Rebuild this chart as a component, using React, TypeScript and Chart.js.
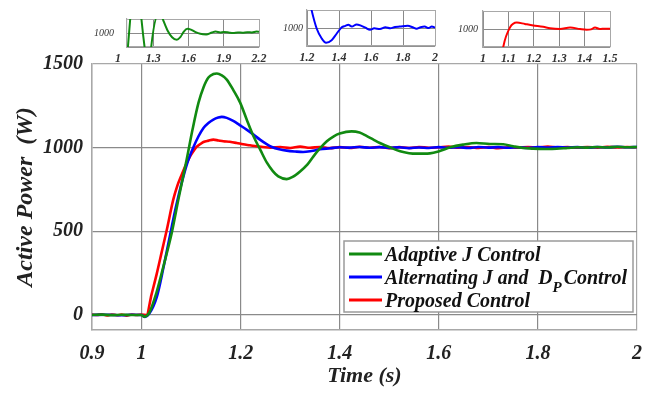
import React, { useEffect, useRef } from "react";
import { Chart, registerables } from "chart.js";

Chart.register(...registerables);

const SERIF = '"Liberation Serif", "Times New Roman", serif';

// ---------- main chart data ----------
const greenTime = [0.9, 0.92, 0.94, 0.96, 0.98, 1.0, 1.005, 1.015, 1.03, 1.045, 1.061, 1.075, 1.091, 1.103, 1.115, 1.125, 1.135, 1.145, 1.152, 1.162, 1.172, 1.185, 1.199, 1.212, 1.226, 1.24, 1.253, 1.265, 1.276, 1.293, 1.305, 1.32, 1.335, 1.347, 1.36, 1.374, 1.388, 1.4, 1.424, 1.44, 1.454, 1.468, 1.481, 1.501, 1.522, 1.54, 1.555, 1.582, 1.602, 1.623, 1.649, 1.676, 1.703, 1.73, 1.75, 1.77, 1.79, 1.815, 1.838, 1.86, 1.88, 1.9, 1.92, 1.94, 1.96, 1.98, 2.0];
const greenPower = [0, 2, -1, 1, 0, 0, -10, 10, 132, 300, 491, 700, 928, 1110, 1269, 1360, 1419, 1440, 1443, 1432, 1407, 1345, 1269, 1170, 1068, 985, 910, 860, 828, 812, 825, 858, 900, 948, 995, 1038, 1068, 1084, 1097, 1090, 1070, 1048, 1028, 1002, 978, 967, 964, 966, 980, 1002, 1018, 1028, 1022, 1020, 1008, 998, 994, 992, 993, 998, 1002, 1000, 1004, 1001, 1005, 1002, 1004];

const blueTime = [0.9, 0.93, 0.96, 0.98, 1.0, 1.007, 1.015, 1.031, 1.044, 1.057, 1.069, 1.081, 1.092, 1.104, 1.115, 1.125, 1.135, 1.145, 1.155, 1.162, 1.172, 1.185, 1.198, 1.212, 1.226, 1.239, 1.251, 1.263, 1.278, 1.293, 1.31, 1.326, 1.343, 1.36, 1.38, 1.4, 1.42, 1.44, 1.46, 1.48, 1.5, 1.52, 1.54, 1.56, 1.58, 1.6, 1.62, 1.64, 1.66, 1.68, 1.7, 1.72, 1.74, 1.76, 1.78, 1.8, 1.82, 1.84, 1.86, 1.88, 1.9, 1.92, 1.94, 1.96, 1.98, 2.0];
const bluePower = [0, 1, -2, 1, 0, -12, 5, 110, 280, 469, 640, 789, 905, 998, 1068, 1118, 1148, 1168, 1180, 1184, 1178, 1160, 1135, 1108, 1078, 1048, 1024, 1004, 990, 982, 977, 974, 980, 990, 996, 1002, 1000, 1004, 999, 1003, 998, 1002, 997, 1001, 998, 1003, 999, 1002, 998, 1004, 1000, 1003, 999, 1002, 998, 1003, 1000, 1004, 1001, 1003, 999, 1004, 1001, 1005, 1002, 1004];

const redTime = [0.9, 0.91, 0.92, 0.93, 0.94, 0.95, 0.96, 0.97, 0.98, 0.99, 1.0, 1.01, 1.02, 1.031, 1.041, 1.051, 1.064, 1.072, 1.081, 1.09, 1.098, 1.105, 1.111, 1.118, 1.125, 1.135, 1.145, 1.155, 1.165, 1.178, 1.192, 1.205, 1.219, 1.232, 1.245, 1.26, 1.28, 1.3, 1.32, 1.34, 1.36, 1.38, 1.4, 1.42, 1.44, 1.46, 1.48, 1.5, 1.52, 1.54, 1.56, 1.58, 1.6, 1.62, 1.64, 1.66, 1.68, 1.7, 1.72, 1.74, 1.76, 1.78, 1.8, 1.82, 1.84, 1.86, 1.88, 1.9, 1.92, 1.94, 1.96, 1.98, 2.0];
const redPower = [2, 0, 4, -3, 3, -2, 2, -4, 3, 0, 2, 0, 120, 250, 380, 509, 689, 770, 838, 900, 948, 980, 1004, 1020, 1034, 1042, 1048, 1043, 1038, 1035, 1028, 1020, 1014, 1008, 1004, 1000, 1004, 998, 1006, 999, 1004, 997, 1003, 998, 1005, 999, 1004, 997, 1003, 998, 1004, 999, 1002, 1006, 1000, 1004, 998, 1003, 997, 1002, 999, 1004, 1001, 1006, 1000, 1003, 999, 1004, 1000, 1005, 1001, 1004, 1002];

const seriesLabels = ["Adaptive J Control", "Alternating J and  D_P Control", "Proposed Control"];
const seriesColors = ["#118a11", "#0000ff", "#ff0000"];

const mainXTicks = [0.9, 1, 1.2, 1.4, 1.6, 1.8, 2];
const mainYTicks = [0, 500, 1000, 1500];

// ---------- inset data ----------
const inset1Time = [1.07, 1.115, 1.15, 1.185, 1.245, 1.265, 1.275, 1.355, 1.37, 1.385, 1.42, 1.46, 1.5, 1.53, 1.56, 1.59, 1.62, 1.66, 1.7, 1.75, 1.8, 1.83, 1.87, 1.9, 1.95, 1.98, 2.02, 2.06, 2.1, 2.14, 2.18, 2.2];
const inset1Power = [880, 1110, 1300, 1110, 890, 850, 920, 1075, 1062, 1045, 1010, 985, 976, 985, 1005, 1015, 1012, 1003, 997, 995, 1002, 1005, 1002, 1004, 1001, 1000, 1002, 1001, 1003, 1002, 1005, 1004];
const inset1XTicks = [1, 1.3, 1.6, 1.9, 2.2];

const inset2Time = [1.2, 1.229, 1.261, 1.292, 1.319, 1.354, 1.385, 1.417, 1.44, 1.458, 1.48, 1.51, 1.54, 1.565, 1.594, 1.62, 1.656, 1.69, 1.72, 1.75, 1.78, 1.83, 1.86, 1.885, 1.91, 1.935, 1.96, 1.98, 2.0];
const inset2Power = [1110, 1049, 998, 971, 959, 966, 984, 1002, 1006, 1009, 1004, 1010, 1006, 1001, 995, 999, 997, 1002, 999, 1003, 1004, 1006, 1002, 998, 1002, 1004, 1000, 1004, 1001];
const inset2XTicks = [1.2, 1.4, 1.6, 1.8, 2];

const inset3Time = [1.07, 1.08, 1.106, 1.133, 1.165, 1.198, 1.237, 1.264, 1.303, 1.343, 1.382, 1.408, 1.425, 1.441, 1.46, 1.48, 1.5];
const inset3Power = [900, 951, 1004, 1018, 1014, 1010, 1006, 1002, 1000, 1004, 1000, 998, 999, 1004, 1000, 1001, 1001];
const inset3XTicks = [1, 1.1, 1.2, 1.3, 1.4, 1.5];

const insetYTicks = [950, 1000, 1050];

const GRID = "#8a8a8a";
const FRAME = "#a8a8a8";
const NONE = "rgba(0,0,0,0)";

function toPoints(t: number[], v: number[]) {
  return t.map((x, i) => ({ x, y: v[i] }));
}

const MAIN_FONT = `italic bold 20px ${SERIF}`;
const SUB_FONT = `italic bold 15px ${SERIF}`;

function drawRich(ctx: CanvasRenderingContext2D, text: string, x: number, baseline: number, avail: number) {
  const parts = text.split(/_(\w)/).map((p, i) => (i > 1 && i % 2 === 0 ? p.replace(/^\s+/, "") : p));
  const widths = parts.map((p, i) => {
    ctx.font = i % 2 === 1 ? SUB_FONT : MAIN_FONT;
    return ctx.measureText(p).width + (i % 2 === 1 ? 2 : 0);
  });
  const total = widths.reduce((a, b) => a + b, 0);
  const squeeze = Math.max(0, total - avail);
  let cx = x;
  parts.forEach((p, i) => {
    if (i % 2 === 1) {
      ctx.font = SUB_FONT;
      ctx.fillText(p, cx, baseline + 8);
      cx += widths[i];
    } else {
      ctx.font = MAIN_FONT;
      const w = i === 0 ? widths[i] - squeeze : widths[i];
      ctx.fillText(p, cx, baseline, w);
      cx += w;
    }
  });
}

const boxLegend = {
  id: "boxLegend",
  afterDraw(chart: any) {
    const { ctx, chartArea } = chart;
    const w = 289;
    const h = 71;
    const x0 = chartArea.right - 4 - w;
    const y0 = chartArea.bottom - 18 - h;
    ctx.save();
    ctx.fillStyle = "#ffffff";
    ctx.fillRect(x0, y0, w, h);
    ctx.strokeStyle = "#9a9a9a";
    ctx.lineWidth = 1.5;
    ctx.strokeRect(x0, y0, w, h);
    chart.data.datasets.forEach((ds: any, i: number) => {
      const cy = y0 + 13 + i * 23;
      ctx.strokeStyle = ds.borderColor;
      ctx.lineWidth = 3;
      ctx.beginPath();
      ctx.moveTo(x0 + 5, cy);
      ctx.lineTo(x0 + 38, cy);
      ctx.stroke();
      ctx.fillStyle = "#111";
      ctx.textBaseline = "alphabetic";
      ctx.textAlign = "left";
      drawRich(ctx, ds.label, x0 + 41, cy + 7, w - 41 - 6);
    });
    ctx.restore();
  },
};

function MainChart() {
  const ref = useRef<HTMLCanvasElement | null>(null);
  useEffect(() => {
    if (!ref.current) return;
    const series = [
      toPoints(greenTime, greenPower),
      toPoints(blueTime, bluePower),
      toPoints(redTime, redPower),
    ];
    const chart = new Chart(ref.current, {
      type: "line",
      data: {
        datasets: series.map((data, i) => ({
          label: seriesLabels[i],
          data,
          borderColor: seriesColors[i],
          borderWidth: 2.6,
          pointRadius: 0,
          cubicInterpolationMode: "monotone" as const,
          fill: false,
        })),
      },
      options: {
        animation: false,
        responsive: false,
        devicePixelRatio: 1,
        events: [],
        layout: { padding: { left: 0, top: 64, right: 17, bottom: 0 } },
        plugins: { legend: { display: false }, tooltip: { enabled: false } },
        scales: {
          x: {
            type: "linear",
            min: 0.9,
            max: 2.0,
            afterBuildTicks: (s: any) => {
              s.ticks = mainXTicks.map((value) => ({ value }));
            },
            afterFit: (s: any) => {
              s.height = 63;
            },
            ticks: {
              autoSkip: false,
              maxRotation: 0,
              padding: 12,
              color: "#222",
              font: { family: SERIF, size: 20, weight: "bold", style: "italic" },
              callback: (v: any) => String(v),
            },
            grid: {
              drawTicks: false,
              lineWidth: 1.2,
              color: (c: any) => (c.tick && (c.tick.value === 2 || c.tick.value === 0.9) ? FRAME : GRID),
            },
            border: { color: FRAME, width: 1.5 },
            title: {
              display: true,
              text: "Time (s)",
              color: "#222",
              font: { family: SERIF, size: 22, weight: "bold", style: "italic" },
              padding: { top: 0, bottom: 3 },
            },
          },
          y: {
            type: "linear",
            min: -90,
            max: 1500,
            afterBuildTicks: (s: any) => {
              s.ticks = mainYTicks.map((value) => ({ value }));
            },
            afterFit: (s: any) => {
              s.width = 92;
            },
            ticks: {
              autoSkip: false,
              padding: 9,
              color: "#222",
              font: { family: SERIF, size: 20, weight: "bold", style: "italic" },
              callback: (v: any) => String(v),
            },
            grid: {
              drawTicks: false,
              lineWidth: 1.2,
              color: (c: any) => (c.tick && c.tick.value === 1500 ? FRAME : GRID),
            },
            border: { color: FRAME, width: 1.5 },
            title: {
              display: true,
              text: "Active Power  (W)",
              color: "#222",
              font: { family: SERIF, size: 24, weight: "bold", style: "italic" },
              padding: { top: 11, bottom: 0 },
            },
          },
        },
      },
      plugins: [boxLegend],
    });
    return () => chart.destroy();
  }, []);
  return (
    <canvas
      ref={ref}
      width={654}
      height={393}
      style={{ position: "absolute", left: 0, top: 0, width: 654, height: 393 }}
    />
  );
}

type InsetProps = {
  left: number;
  width: number;
  areaLeft: number;
  areaRight: number;
  areaTop: number;
  areaBottom: number;
  xMin: number;
  xMax: number;
  xTicks: number[];
  time: number[];
  values: number[];
  color: string;
  labelPad: number;
};

const INSET_H = 68;

function InsetChart(p: InsetProps) {
  const ref = useRef<HTMLCanvasElement | null>(null);
  useEffect(() => {
    if (!ref.current) return;
    const chart = new Chart(ref.current, {
      type: "line",
      data: {
        datasets: [
          {
            data: toPoints(p.time, p.values),
            borderColor: p.color,
            borderWidth: 2,
            pointRadius: 0,
            cubicInterpolationMode: "monotone" as const,
            fill: false,
          },
        ],
      },
      options: {
        animation: false,
        responsive: false,
        devicePixelRatio: 1,
        events: [],
        layout: {
          padding: {
            left: 0,
            top: p.areaTop,
            right: p.width - (p.areaRight - p.left),
            bottom: 0,
          },
        },
        plugins: { legend: { display: false }, tooltip: { enabled: false } },
        scales: {
          x: {
            type: "linear",
            min: p.xMin,
            max: p.xMax,
            afterBuildTicks: (s: any) => {
              s.ticks = p.xTicks.map((value) => ({ value }));
            },
            afterFit: (s: any) => {
              s.height = INSET_H - p.areaBottom;
            },
            ticks: {
              autoSkip: false,
              maxRotation: 0,
              padding: 5,
              color: "#333",
              font: { family: SERIF, size: 12, weight: "bold", style: "italic" },
              callback: (v: any) => String(v),
            },
            grid: {
              drawTicks: false,
              lineWidth: 1,
              color: (c: any) =>
                !c.tick || c.tick.value < p.xMin ? NONE : c.tick.value >= p.xMax ? FRAME : GRID,
            },
            border: { color: FRAME, width: 1.2 },
          },
          y: {
            type: "linear",
            min: 950,
            max: 1050,
            afterBuildTicks: (s: any) => {
              s.ticks = insetYTicks.map((value) => ({ value }));
            },
            afterFit: (s: any) => {
              s.width = p.areaLeft - p.left;
            },
            ticks: {
              autoSkip: false,
              padding: p.labelPad,
              color: "#333",
              font: { family: SERIF, size: 10, style: "italic" },
              callback: (v: any) => (v === 1000 ? "1000" : ""),
            },
            grid: {
              drawTicks: false,
              lineWidth: 1,
              color: (c: any) => (c.tick && c.tick.value === 1050 ? FRAME : GRID),
            },
            border: { color: FRAME, width: 1.2 },
          },
        },
      },
    });
    return () => chart.destroy();
  }, []);
  return (
    <canvas
      ref={ref}
      width={p.width}
      height={INSET_H}
      style={{ position: "absolute", left: p.left, top: 0, width: p.width, height: INSET_H }}
    />
  );
}

export default function App() {
  return (
    <div
      style={{
        position: "fixed",
        left: 0,
        top: 0,
        width: 654,
        height: 393,
        background: "#ffffff",
        overflow: "hidden",
      }}
    >
      <MainChart />
      <InsetChart
        left={70}
        width={205}
        areaLeft={127}
        areaRight={259}
        areaTop={6}
        areaBottom={47}
        xMin={1.076}
        xMax={2.2}
        xTicks={inset1XTicks}
        time={inset1Time}
        values={inset1Power}
        color={seriesColors[0]}
        labelPad={13}
      />
      <InsetChart
        left={250}
        width={200}
        areaLeft={307}
        areaRight={435}
        areaTop={9}
        areaBottom={46}
        xMin={1.2}
        xMax={2}
        xTicks={inset2XTicks}
        time={inset2Time}
        values={inset2Power}
        color={seriesColors[1]}
        labelPad={4}
      />
      <InsetChart
        left={426}
        width={200}
        areaLeft={483}
        areaRight={610}
        areaTop={6}
        areaBottom={47}
        xMin={1}
        xMax={1.5}
        xTicks={inset3XTicks}
        time={inset3Time}
        values={inset3Power}
        color={seriesColors[2]}
        labelPad={5}
      />
    </div>
  );
}
